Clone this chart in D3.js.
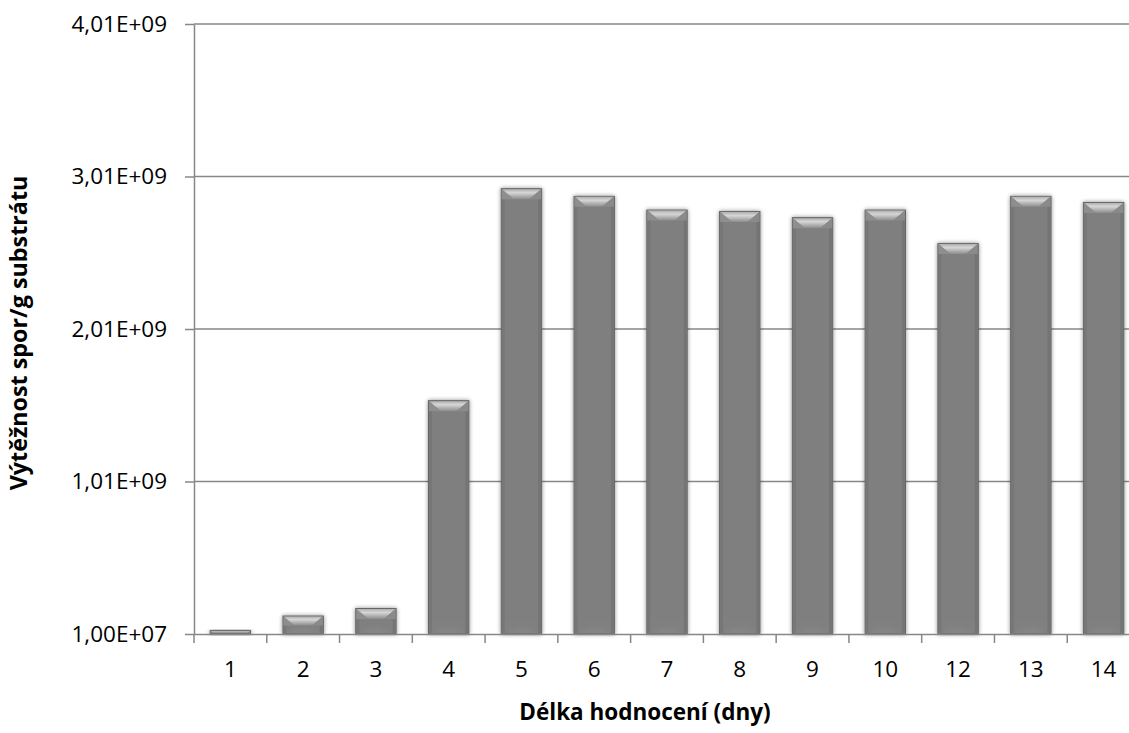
<!DOCTYPE html>
<html>
<head>
<meta charset="utf-8">
<script src="https://cdn.jsdelivr.net/npm/d3@7"></script>
<style>
  html, body { margin: 0; padding: 0; background: #fff; }
  svg { display: block; font-family: "Open Sans", Lato, sans-serif; }
</style>
</head>
<body>
<svg id="chart" width="1129" height="733"></svg>
<script>
// Spore yield per gram of substrate by length of evaluation (days)
const days = ["1", "2", "3", "4", "5", "6", "7", "8", "9", "10", "12", "13", "14"];
const sporeYield = [3.2e7, 1.28e8, 1.77e8, 1.54e9, 2.93e9, 2.88e9, 2.79e9, 2.78e9, 2.74e9, 2.79e9, 2.57e9, 2.88e9, 2.84e9];
const yTickValues = [1.00e7, 1.01e9, 2.01e9, 3.01e9, 4.01e9];
const yTickLabels = ["1,00E+07", "1,01E+09", "2,01E+09", "3,01E+09", "4,01E+09"];
const xTitle = "Délka hodnocení (dny)";
const yTitle = "Výtěžnost spor/g substrátu";

const svg = d3.select("#chart");
const plot = { left: 194, right: 1140, top: 24, bottom: 634 };
const fontFamily = "'Open Sans', Lato, sans-serif";
const fontSize = 22.5;

const x = d3.scaleBand()
  .domain(days)
  .range([plot.left, plot.right])
  .paddingInner(0.445)
  .paddingOuter(0.2225);

const y = d3.scaleLinear()
  .domain([yTickValues[0], yTickValues[yTickValues.length - 1]])
  .range([plot.bottom, plot.top]);

const axisColor = "#878787";

// defs: bevel gradients and soft shadow
const defs = svg.append("defs");
const topGrad = defs.append("linearGradient").attr("id", "bevelTop")
  .attr("x1", 0).attr("y1", 0).attr("x2", 0).attr("y2", 1);
topGrad.append("stop").attr("offset", "0%").attr("stop-color", "#b0b0b0");
topGrad.append("stop").attr("offset", "35%").attr("stop-color", "#d6d6d6");
topGrad.append("stop").attr("offset", "100%").attr("stop-color", "#8c8c8c");

const bottomGrad = defs.append("radialGradient").attr("id", "bevelBottom")
  .attr("cx", 0.5).attr("cy", 1).attr("r", 0.6);
bottomGrad.append("stop").attr("offset", "0%").attr("stop-color", "#8a8a8a");
bottomGrad.append("stop").attr("offset", "100%").attr("stop-color", "#808080");

const shadow = defs.append("filter").attr("id", "barShadow")
  .attr("x", "-30%").attr("y", "-30%").attr("width", "160%").attr("height", "160%");
shadow.append("feGaussianBlur").attr("in", "SourceAlpha").attr("stdDeviation", 2.2).attr("result", "blur");
shadow.append("feComponentTransfer").attr("in", "blur").attr("result", "soft")
  .append("feFuncA").attr("type", "linear").attr("slope", 0.45);
const merge = shadow.append("feMerge");
merge.append("feMergeNode").attr("in", "soft");
merge.append("feMergeNode").attr("in", "SourceGraphic");

// horizontal gridlines
svg.append("g")
  .selectAll("line")
  .data(yTickValues.slice(1))
  .join("line")
  .attr("x1", plot.left).attr("x2", plot.right)
  .attr("y1", d => y(d)).attr("y2", d => y(d))
  .attr("stroke", axisColor).attr("stroke-width", 1.5);

// bars
const bevel = 10;
const base = y(yTickValues[0]);
const bars = svg.append("g")
  .selectAll("g")
  .data(days.map((d, i) => ({ day: d, value: sporeYield[i] })))
  .join("g")
  .attr("filter", "url(#barShadow)");

bars.append("rect")
  .attr("x", d => x(d.day))
  .attr("y", d => y(d.value))
  .attr("width", x.bandwidth())
  .attr("height", d => base - y(d.value))
  .attr("fill", "#7f7f7f")
  .attr("stroke", "#666")
  .attr("stroke-width", 1);

// side facets
bars.append("rect")
  .attr("x", d => x(d.day) + 0.5)
  .attr("y", d => y(d.value) + 0.5)
  .attr("width", 3)
  .attr("height", d => Math.max(0, base - y(d.value) - 1))
  .attr("fill", "#777");
bars.append("rect")
  .attr("x", d => x(d.day) + x.bandwidth() - 3.5)
  .attr("y", d => y(d.value) + 0.5)
  .attr("width", 3)
  .attr("height", d => Math.max(0, base - y(d.value) - 1))
  .attr("fill", "#747474");

// soft lighter glow near the base
bars.append("rect")
  .attr("x", d => x(d.day) + 4)
  .attr("y", d => Math.max(y(d.value) + 1, base - 14))
  .attr("width", x.bandwidth() - 8)
  .attr("height", d => Math.min(13, Math.max(0, base - y(d.value) - 2)))
  .attr("fill", "url(#bevelBottom)")
  .attr("opacity", 0.8);

// top bevel: trapezoid, flattened for short bars
const bevelH = d => Math.min(bevel, (base - y(d.value)) / 2);
bars.append("path")
  .attr("d", d => {
    const x0 = x(d.day) + 0.5, x1 = x(d.day) + x.bandwidth() - 0.5;
    const t = y(d.value) + 0.5, h = bevelH(d);
    return `M${x0},${t}L${x1},${t}L${x1 - h * 1.2},${t + h}L${x0 + h * 1.2},${t + h}Z`;
  })
  .attr("fill", "url(#bevelTop)");

// side bevel triangles beside the top facet
bars.append("path")
  .attr("d", d => {
    const x0 = x(d.day) + 0.5, t = y(d.value) + 0.5, h = bevelH(d);
    return `M${x0},${t}L${x0 + h * 1.2},${t + h}L${x0},${t + h}Z`;
  })
  .attr("fill", "#8e8e8e");
bars.append("path")
  .attr("d", d => {
    const x1 = x(d.day) + x.bandwidth() - 0.5, t = y(d.value) + 0.5, h = bevelH(d);
    return `M${x1},${t}L${x1 - h * 1.2},${t + h}L${x1},${t + h}Z`;
  })
  .attr("fill", "#8a8a8a");

// y axis
const yAxis = d3.axisLeft(y)
  .tickValues(yTickValues)
  .tickFormat((d, i) => yTickLabels[i])
  .tickSizeInner(9)
  .tickSizeOuter(0)
  .tickPadding(18);
const gy = svg.append("g").attr("transform", `translate(${plot.left},0)`).call(yAxis);
gy.select(".domain").attr("stroke", axisColor).attr("stroke-width", 1.5);
gy.selectAll(".tick line").attr("stroke", axisColor).attr("stroke-width", 1.5);
gy.selectAll(".tick text")
  .attr("font-family", fontFamily)
  .attr("font-size", fontSize)
  .attr("fill", "#000");

// x axis: ticks at category boundaries
const xAxis = d3.axisBottom(x).tickSize(0).tickPadding(27);
const gx = svg.append("g").attr("transform", `translate(0,${plot.bottom})`).call(xAxis);
gx.select(".domain").attr("stroke", axisColor).attr("stroke-width", 1.5);
gx.selectAll(".tick text")
  .attr("font-family", fontFamily)
  .attr("font-size", fontSize)
  .attr("fill", "#000");

const step = x.step();
const boundaries = days.map(d => x(d) - step * x.paddingInner() / 2).concat([plot.right]);
gx.append("g")
  .selectAll("line")
  .data(boundaries)
  .join("line")
  .attr("x1", d => d).attr("x2", d => d)
  .attr("y1", 0).attr("y2", 9)
  .attr("stroke", axisColor).attr("stroke-width", 1.5);

// axis titles
svg.append("text")
  .attr("x", 645)
  .attr("y", 720)
  .attr("text-anchor", "middle")
  .attr("font-family", fontFamily)
  .attr("font-weight", "bold")
  .attr("font-size", fontSize)
  .attr("fill", "#000")
  .text(xTitle);

svg.append("text")
  .attr("transform", `translate(27,${(plot.top + plot.bottom) / 2 + 4}) rotate(-90)`)
  .attr("text-anchor", "middle")
  .attr("font-family", fontFamily)
  .attr("font-weight", "bold")
  .attr("font-size", 23.3)
  .attr("fill", "#000")
  .text(yTitle);
</script>
</body>
</html>
